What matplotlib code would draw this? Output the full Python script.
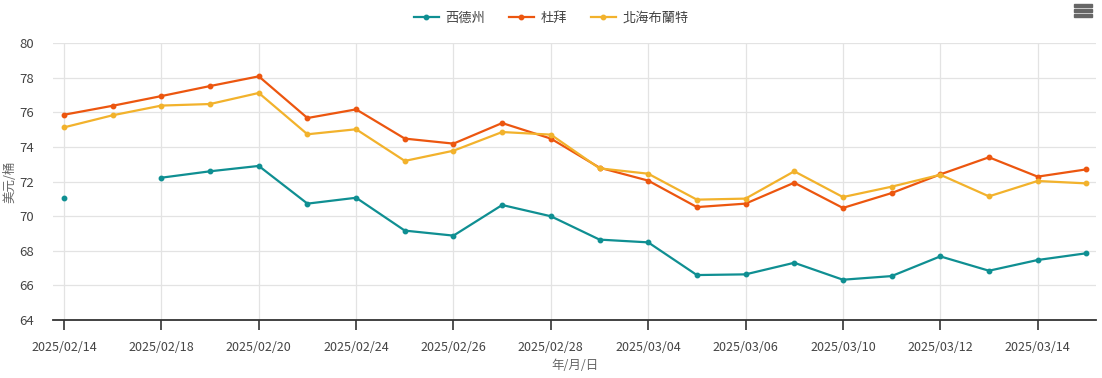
import numpy as np
import matplotlib.pyplot as plt
from matplotlib.patches import Rectangle

plt.rcParams['font.family'] = ['Noto Sans CJK TC', 'DejaVu Sans']

dates = ['2025/02/14', '2025/02/17', '2025/02/18', '2025/02/19', '2025/02/20',
         '2025/02/21', '2025/02/24', '2025/02/25', '2025/02/26', '2025/02/27',
         '2025/02/28', '2025/03/03', '2025/03/04', '2025/03/05', '2025/03/06',
         '2025/03/07', '2025/03/10', '2025/03/11', '2025/03/12', '2025/03/13',
         '2025/03/14', '2025/03/17']

wti = [71.07, np.nan, 72.23, 72.60, 72.91, 70.73, 71.07, 69.17, 68.88, 70.65,
       70.00, 68.65, 68.49, 66.60, 66.64, 67.31, 66.33, 66.54, 67.68, 66.85,
       67.47, 67.86]
dubai = [75.87, 76.39, 76.95, 77.53, 78.09, 75.68, 76.18, 74.49, 74.20, 75.39,
         74.49, 72.81, 72.06, 70.53, 70.73, 71.94, 70.48, 71.34, 72.42, 73.41,
         72.29, 72.71]
brent = [75.14, 75.84, 76.40, 76.49, 77.13, 74.74, 75.03, 73.20, 73.79, 74.87,
         74.72, 72.77, 72.46, 70.96, 71.02, 72.60, 71.11, 71.71, 72.40, 71.15,
         72.04, 71.90]

names = ['西德州', '杜拜', '北海布蘭特']
colors = ['#0f8f92', '#ec560f', '#f2b22c']

fig = plt.figure(figsize=(11.02, 3.78), dpi=100)
ax = fig.add_axes([0.0484, 0.1534, 0.9462, 0.732])

x = np.arange(len(dates))
for vals, name, c in zip([wti, dubai, brent], names, colors):
    ax.plot(x, vals, color=c, lw=1.6, marker='o', ms=3.2, label=name)

ax.set_xlim(-0.22, 21.2)
ax.set_ylim(64, 80)
ax.set_yticks(range(64, 81, 2))

shown = [0, 2, 4, 6, 8, 10, 12, 14, 16, 18, 20]
ax.set_xticks(shown)
ax.set_xticklabels([dates[i] for i in shown])

ax.grid(True, color='#e3e3e3', lw=0.9)
ax.set_axisbelow(True)
for s in ['top', 'right', 'left']:
    ax.spines[s].set_visible(False)
ax.spines['bottom'].set_color('#333333')
ax.spines['bottom'].set_linewidth(1.3)
ax.tick_params(axis='x', length=7, width=1.2, color='#333333', colors='#444444',
               labelsize=9, pad=8)
ax.tick_params(axis='y', length=0, colors='#444444', labelsize=9.5, pad=14)
for t in ax.get_xticklabels():
    t.set_color('#444444')

ax.set_xlabel('年/月/日', fontsize=9, color='#666666', labelpad=4)
ax.set_ylabel('美元/桶', fontsize=9, color='#666666', labelpad=2)

fig.legend(loc='upper center', bbox_to_anchor=(0.5, 1.0), ncol=3, frameon=False,
           fontsize=9.5, handlelength=1.9, columnspacing=1.8, handletextpad=0.5,
           labelcolor='#444444')

# menu icon
for py in [4.2, 9.2, 14.2]:
    fig.patches.append(Rectangle((1074 / 1102, 1 - (py + 2.6) / 378), 18 / 1102, 2.6 / 378,
                                 transform=fig.transFigure, color='#666666'))

fig.savefig('out.png', dpi=100)
